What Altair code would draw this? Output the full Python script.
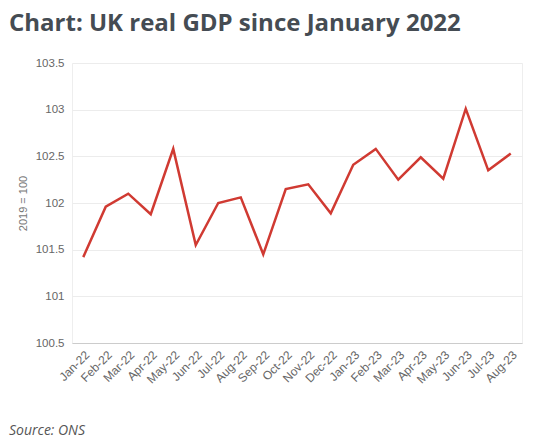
import altair as alt
import pandas as pd

months = ["Jan-22", "Feb-22", "Mar-22", "Apr-22", "May-22", "Jun-22", "Jul-22",
          "Aug-22", "Sep-22", "Oct-22", "Nov-22", "Dec-22", "Jan-23", "Feb-23",
          "Mar-23", "Apr-23", "May-23", "Jun-23", "Jul-23", "Aug-23"]
gdp = [101.42, 101.96, 102.10, 101.88, 102.58, 101.55, 102.00, 102.06, 101.45,
       102.15, 102.20, 101.89, 102.41, 102.58, 102.25, 102.49, 102.26, 103.01,
       102.35, 102.53]
y_ticks = [100.5, 101, 101.5, 102, 102.5, 103, 103.5]
title_text = "Chart: UK real GDP since January 2022"
source_text = "Source: ONS"

df = pd.DataFrame({"month": months, "gdp": gdp})

W, H = 450, 280

line = alt.Chart(df).mark_line(color="#d03a32", strokeWidth=2.5).encode(
    x=alt.X("month:O", sort=months, title=None,
            axis=alt.Axis(labelAngle=315, ticks=False, domain=True,
                          domainColor="#cccccc", labelColor="#666666",
                          labelFontSize=12, labelFont="Liberation Sans",
                          labelPadding=6, grid=False)),
    y=alt.Y("gdp:Q", title="2019 = 100",
            scale=alt.Scale(domain=[100.5, 103.5], nice=False, zero=False),
            axis=alt.Axis(values=y_ticks, format="~g", ticks=False, domain=False,
                          labelColor="#666666", labelFontSize=11.5,
                          labelFont="Liberation Sans", labelPadding=8,
                          gridColor="#ececec", titleColor="#777777",
                          titleFontSize=11, titleFont="Liberation Sans",
                          titleFontWeight="normal", titlePadding=7)),
)

src = alt.Chart(pd.DataFrame({"t": [source_text]})).mark_text(
    align="left", baseline="alphabetic", font="Open Sans", fontStyle="italic",
    fontSize=14, color="#555555"
).encode(text="t:N", x=alt.value(-63), y=alt.value(H + 92))

chart = alt.layer(line, src).properties(
    width=W, height=H,
    autosize=alt.AutoSizeParams(type="none"),
    padding={"left": 64, "top": 55, "right": 20, "bottom": 96},
    title=alt.TitleParams(title_text, anchor="start", frame="group",
                          font="Open Sans", fontSize=24, fontWeight="bold",
                          color="#454c53", dx=-63, offset=2,
                          baseline="alphabetic"),
).configure_view(stroke="#eeeeee")

chart.save("out.html", embed_options={"renderer": "svg", "actions": False})
